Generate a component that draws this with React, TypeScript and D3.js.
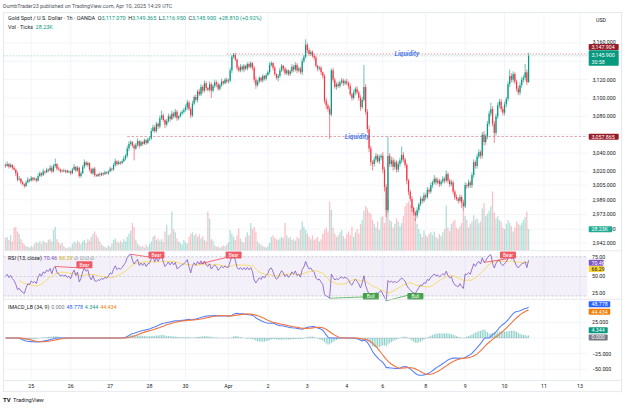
import React from "react";
import * as d3 from "d3";

const FONT = "Roboto, 'Liberation Sans', Arial, sans-serif";

// ---------- data (hourly bars, Mar 24 08:00 -> Apr 10 14:00 UTC) ----------
const firstOpen = 3027;
const closes = [
  3026, 3028, 3025, 3027, 3024, 3022, 3018, 3011, 3012, 3008,
  3006, 3004, 3008, 3011, 3010, 3013, 3011, 3012, 3010, 3015,
  3018, 3016, 3020, 3019, 3022, 3021, 3024, 3020, 3026, 3028,
  3023, 3022, 3020, 3021, 3020, 3021, 3019, 3020, 3018, 3022,
  3025, 3021, 3024, 3015, 3018, 3025, 3030, 3027, 3029, 3022,
  3018, 3023, 3016, 3015, 3017, 3016, 3018, 3017, 3019, 3018,
  3020, 3023, 3022, 3027, 3031, 3028, 3030, 3029, 3031, 3034,
  3037, 3045, 3050, 3052, 3048, 3045, 3049, 3053, 3048, 3052,
  3050, 3054, 3051, 3055, 3056, 3064, 3068, 3064, 3072, 3069,
  3078, 3081, 3076, 3071, 3075, 3080, 3077, 3083, 3080, 3085,
  3078, 3080, 3083, 3085, 3087, 3090, 3095, 3088, 3081, 3094,
  3101, 3098, 3107, 3104, 3112, 3108, 3116, 3111, 3109, 3115,
  3108, 3113, 3117, 3115, 3110, 3114, 3118, 3116, 3120, 3118,
  3119, 3130, 3145, 3147, 3142, 3133, 3130, 3134, 3131, 3135,
  3132, 3137, 3134, 3138, 3133, 3120, 3114, 3118, 3122, 3119,
  3124, 3121, 3125, 3128, 3136, 3138, 3133, 3126, 3122, 3124,
  3130, 3135, 3132, 3127, 3130, 3126, 3129, 3134, 3131, 3136,
  3130, 3132, 3128, 3140, 3145, 3158, 3152, 3148, 3150, 3146,
  3144, 3135, 3132, 3133, 3128, 3124, 3097, 3092, 3088, 3082,
  3130, 3120, 3112, 3115, 3113, 3117, 3119, 3116, 3118, 3116,
  3113, 3104, 3100, 3106, 3110, 3106, 3100, 3090, 3098, 3112,
  3085, 3066, 3045, 3030, 3028, 3033, 3037, 3031, 3035, 3037,
  3022, 3003, 2978, 3037, 3028, 3032, 3025, 3030, 3022, 3028,
  3032, 3038, 3033, 3027, 3010, 2998, 2990, 2980, 2975, 2972,
  2978, 2984, 2990, 2988, 2994, 2992, 3000, 2998, 3005, 3008,
  3012, 3008, 3010, 3006, 3009, 3012, 3010, 3017, 3010, 3006,
  3008, 2998, 2992, 2990, 2988, 2992, 2986, 2982, 3005, 3004,
  3008, 3005, 3016, 3030, 3026, 3036, 3041, 3037, 3060, 3052,
  3058, 3072, 3083, 3088, 3072, 3062, 3080, 3092, 3096, 3088,
  3084, 3093, 3099, 3115, 3124, 3120, 3126, 3118, 3110, 3106,
  3114, 3120, 3122, 3128, 3117.07, 3145.9,
];
const wickUp = [
  2,3,1,2,1,2,1,2,3,1, 2,1,2,3,1,2,1,2,1,3, 2,1,3,1,2,1,3,2,2,6, 1,2,1,1,2,1,1,1,1,2,
  3,1,2,1,2,2,3,1,2,1, 2,1,2,1,1,2,1,1,2,1, 1,2,1,2,3,1,2,1,2,3, 2,3,3,2,1,2,2,3,1,2,
  1,2,1,2,2,3,3,2,2,1, 3,5,2,1,2,3,2,3,2,3, 2,1,2,2,2,3,3,2,2,3, 2,3,2,3,3,2,3,2,1,3,
  2,2,3,2,2,2,3,1,2,2, 2,3,2,2,2,1,2,3,2,2, 1,2,2,2,1,2,3,2,2,1, 2,1,2,2,3,2,1,2,1,2,
  3,2,1,2,2,1,2,3,2,3, 2,2,2,3,2,6,2,3,2,2, 2,2,1,2,2,1,2,3,2,3, 2,3,2,2,3,2,3,2,2,3,
  2,3,2,3,2,3,2,3,3,24, 3,3,4,3,2,3,3,2,3,2, 4,3,3,21,3,4,3,3,2,3, 3,9,3,2,2,2,2,3,2,2,
  3,2,3,2,3,2,3,2,3,2, 4,2,3,2,2,3,2,4,2,2, 3,2,2,3,2,3,2,3,3,2, 3,2,3,3,2,3,3,2,3,4,
  3,3,3,7,3,3,3,3,3,3, 3,3,2,3,7,3,3,2,2,3, 3,3,3,9,3,3.465,
];
const wickDn = [
  2,1,2,1,2,1,3,2,1,2, 1,2,1,1,2,1,2,1,2,1, 1,2,1,2,1,2,1,2,1,2, 2,1,2,1,1,2,1,1,2,1,
  1,2,1,2,2,1,2,1,2,2, 1,2,2,1,1,2,1,2,1,1, 2,1,2,1,2,2,1,2,1,1, 2,2,3,2,2,13,2,2,3,1,
  2,1,2,1,2,2,1,2,2,3, 2,2,2,4,2,2,3,1,2,2, 3,2,1,2,2,2,3,2,3,2, 2,2,3,2,2,3,2,3,2,2,
  8,2,2,3,2,2,2,2,1,2, 2,2,3,2,2,3,2,2,2,3, 2,2,2,2,3,3,4,2,2,2, 2,2,2,1,2,2,3,2,2,4,
  2,2,3,2,2,2,2,2,3,2, 3,2,2,3,2,2,3,2,2,2, 3,2,3,2,3,3,3,4,3,27, 2,3,2,3,2,2,2,3,2,2,
  3,2,3,2,3,2,3,4,2,2, 3,4,4,4,7,3,3,2,3,3, 4,5,8,3,3,3,4,3,3,3, 3,3,3,3,4,4,3,4,3,6,
  3,3,2,3,2,3,2,3,2,3, 2,3,2,3,2,2,3,2,3,3, 2,3,3,2,3,2,6,5,2,3, 2,3,3,3,3,3,2,3,3,4,
  3,3,3,3,3,11,3,3,3,3, 3,3,3,3,3,3,3,3,3,3, 3,3,3,3,3,0.12,
];
const volumesK = [
  17,18,14,20,12,30,31,25,22,15, 10,8,6,5,4,6,5,9,11,10, 12,9,13,11,10,14,15,12,27,31,
  15,11,8,10,6,4,3,5,4,9, 12,10,13,11,9,12,14,10,15,13, 18,22,25,20,17,12,8,6,5,4,
  7,5,9,14,16,12,10,13,11,15, 12,18,22,26,36,31,14,9,7,5, 6,4,8,5,9,12,18,20,14,16,
  13,15,12,25,34,20,22,51,28,24, 16,12,10,8,14,11,9,18,22,24, 20,22,18,21,16,19,14,12,51,42,
  15,13,7,5,6,4,5,7,6,8, 11,27,22,18,14,20,29,16,12,10, 18,24,20,36,28,31,25,12,9,8,
  6,5,4,6,10,18,20,17,15,14, 16,18,17,36,20,16,18,14,15,13, 18,16,27,38,31,27,22,18,15,20,
  14,16,18,12,15,22,27,30,25,64, 53,30,22,18,20,24,27,19,16,22, 25,20,31,18,24,28,22,35,40,52,
  58,55,50,48,40,35,30,38,27,44, 45,36,55,66,40,38,30,35,42,38, 32,36,45,58,62,64,60,57,50,42,
  35,28,22,18,26,20,18,22,24,20, 25,18,16,22,19,24,28,59,30,26, 35,38,40,30,28,32,36,52,45,40,
  30,35,38,46,40,42,36,38,55,62, 45,48,52,58,77,50,42,45,40,38, 30,28,35,40,36,32,25,30,38,35,
  33,36,40,44,51,28.23,
];

const dayLabels = ["25", "26", "27", "28", "30", "Apr", "2", "3", "4", "6", "8", "9", "10", "11", "13"];
const dayBars = [15, 38, 61, 84, 105, 130, 153, 176, 199, 220, 245, 268, 291, 314, 335];

const priceGrid = [3160, 3140, 3120, 3100, 3080, 3060, 3040, 3020, 3005, 2989, 2973, 2957, 2942];
const priceTickLabels = [3160, 3120, 3100, 3080, 3040, 3020, 3005, 2989, 2973, 2957, 2942];
const rsiTicks = [75, 50, 25];
const macdTicks = [25, -25, -50];

const liquidityLevels = [3147.904, 3057.865];
const liquidityStartBar = [129, 71];
const liquidityLabelBar = [234, 205];

const bearPairs = [[29, 46], [73, 88], [113, 133], [279, 293]];
const bullPairs = [[189, 213], [222, 239]];

// ---------- indicators ----------
function rsiCalc(src: number[], len: number) {
  let ag = 1.5, al = 1.5;
  const out = [50];
  for (let i = 1; i < src.length; i++) {
    const ch = src[i] - src[i - 1];
    ag = (ag * (len - 1) + Math.max(ch, 0)) / len;
    al = (al * (len - 1) + Math.max(-ch, 0)) / len;
    out.push(al === 0 ? 100 : 100 - 100 / (1 + ag / al));
  }
  return out;
}
function smaCalc(src: number[], len: number) {
  return src.map((_, i) => d3.mean(src.slice(Math.max(0, i - len + 1), i + 1)) as number);
}
function smmaCalc(src: number[], len: number) {
  let s = src[0];
  return src.map((v, i) => (i === 0 ? s : (s = (s * (len - 1) + v) / len)));
}
function emaCalc(src: number[], len: number) {
  const a = 2 / (len + 1);
  let e = src[0];
  return src.map((v, i) => (i === 0 ? e : (e = a * v + (1 - a) * e)));
}

export default function App() {
  const n = closes.length;
  const opens = closes.map((c, i) => (i === 0 ? firstOpen : closes[i - 1]));
  const highs = closes.map((c, i) => Math.max(opens[i], c) + wickUp[i]);
  const lows = closes.map((c, i) => Math.min(opens[i], c) - wickDn[i]);

  const x = d3.scaleLinear().domain([0, 335]).range([5.5, 5.5 + 335 * 1.715]);
  const yP = d3.scaleLinear().domain([2942, 3160]).range([243.0, 42.9]);
  const yV = d3.scaleLinear().domain([0, 28.23]).range([250.7, 229]);
  const yR = d3.scaleLinear().domain([25, 75]).range([296, 256.7]);
  const yM = d3.scaleLinear().domain([-25, 25]).range([353.7, 322.3]);

  const rsi = rsiCalc(closes, 13);
  const rsiMa = smaCalc(rsi, 14);

  const hlc3 = closes.map((c, i) => (highs[i] + lows[i] + c) / 3);
  const hi = smmaCalc(highs, 34);
  const lo = smmaCalc(lows, 34);
  const e1 = emaCalc(hlc3, 34);
  const e2 = emaCalc(e1, 34);
  const mi = e1.map((v, i) => v + (v - e2[i]));
  const md = mi.map((m, i) => (m > hi[i] ? m - hi[i] : m < lo[i] ? m - lo[i] : 0));
  const sb = smaCalc(md, 9);
  const sh = md.map((v, i) => v - sb[i]);

  const idx = d3.range(n);
  const lineR = d3.line<number>().x((i) => x(i)).y((i) => yR(rsi[i]));
  const lineRM = d3.line<number>().x((i) => x(i)).y((i) => yR(rsiMa[i]));
  const lineMD = d3.line<number>().x((i) => x(i)).y((i) => yM(md[i]));
  const lineSB = d3.line<number>().x((i) => x(i)).y((i) => yM(sb[i]));

  const UP = "#089981", DN = "#f23645";
  const grid = "#f0f3fa";
  const txt = "#131722";
  const fs = 5.3;
  const left = 3.5, right = 621.5, axisX = 587.5;
  const mainTop = 12.5, mainBot = 250.7, rsiBot = 299.3, macdBot = 380.5, frameBot = 391.7;
  const lastX = x(n - 1);

  const box = (cy: number, label: string, bg: string, w: number, color = "#fff") => (
    <g key={label + cy}>
      <rect x={588.7} y={cy - 3} width={w} height={6} fill={bg} rx={0.8} />
      <text x={591.5} y={cy + 1.9} fontSize={fs} fill={color} fontFamily={FONT}>{label}</text>
    </g>
  );

  return (
    <svg width={625} height={408} style={{ position: "absolute", left: 0, top: 0, background: "#fff" }}>
      <defs>
        <clipPath id="volBoxClip">
          <rect x={612.3} y={220} width={12} height={20} />
        </clipPath>
      </defs>
      <rect width={625} height={408} fill="#fff" />
      <text x={3} y={8} fontSize={5.4} fill="#50535e" fontFamily={FONT}>
        DumbTrader23 published on TradingView.com, Apr 10, 2025 14:29 UTC
      </text>

      {/* grid */}
      {dayBars.map((b, k) => (
        <line key={"vg" + k} x1={x(b)} x2={x(b)} y1={mainTop} y2={macdBot} stroke={grid} strokeWidth={0.8} />
      ))}
      {priceGrid.map((p) => (
        <line key={"hg" + p} x1={left} x2={axisX} y1={yP(p)} y2={yP(p)} stroke={grid} strokeWidth={0.8} />
      ))}
      {[25, 0, -25, -50].map((v) => (
        <line key={"mg" + v} x1={left} x2={axisX} y1={yM(v)} y2={yM(v)} stroke={grid} strokeWidth={0.8} />
      ))}

      {/* volume */}
      {idx.map((i) => (
        <rect key={"v" + i} x={x(i) - 0.65} y={yV(volumesK[i])} width={1.3} height={mainBot - yV(volumesK[i])}
          fill={closes[i] >= opens[i] ? UP : DN} opacity={0.3} />
      ))}

      {/* current price line & liquidity */}
      <line x1={left} x2={axisX} y1={yP(3145.9)} y2={yP(3145.9)} stroke={UP} strokeWidth={0.6} strokeDasharray="1.5 1.5" opacity={0.5} />
      {liquidityLevels.map((lv, k) => (
        <line key={"lq" + k} x1={x(liquidityStartBar[k])} x2={axisX} y1={yP(lv)} y2={yP(lv)}
          stroke="#b5404c" strokeWidth={0.7} strokeDasharray={k === 0 ? "1.4 1.6" : "2.5 1.8"} opacity={0.75} />
      ))}

      {/* candles */}
      {idx.map((i) => {
        const o = opens[i], c = closes[i];
        const col = c >= o ? UP : DN;
        const top = yP(Math.max(o, c)), bot = yP(Math.min(o, c));
        return (
          <g key={"c" + i}>
            <line x1={x(i)} x2={x(i)} y1={yP(highs[i])} y2={yP(lows[i])} stroke={col} strokeWidth={0.6} />
            <rect x={x(i) - 0.62} y={top} width={1.24} height={Math.max(0.6, bot - top)} fill={col} />
          </g>
        );
      })}

      {liquidityLevels.map((lv, k) => (
        <text key={"lt" + k} x={x(liquidityLabelBar[k])} y={yP(lv) + 2.2} fontSize={6.6} fontStyle="italic" fontWeight="bold"
          fill="#4f7cec" textAnchor="middle" fontFamily={FONT}>Liquidity</text>
      ))}

      {/* legend */}
      <text x={8} y={20.2} fontSize={5.5} fontFamily={FONT} fill={txt}>
        <tspan>Gold Spot / U.S. Dollar · 1h · OANDA</tspan>
        <tspan dx={2.5}>O</tspan><tspan fill={UP}>3,117.070</tspan>
        <tspan dx={2.5}>H</tspan><tspan fill={UP}>3,149.365</tspan>
        <tspan dx={2.5}>L</tspan><tspan fill={UP}>3,116.950</tspan>
        <tspan dx={2.5}>C</tspan><tspan fill={UP}>3,145.900</tspan>
        <tspan dx={2.5} fill={UP}>+28.810 (+0.92%)</tspan>
      </text>
      <text x={8} y={28.6} fontSize={5.5} fontFamily={FONT} fill={txt}>
        <tspan>Vol · Ticks</tspan><tspan dx={2.5} fill={UP}>28.23K</tspan>
      </text>

      {/* RSI pane */}
      <rect x={left} y={yR(75)} width={axisX - left} height={yR(25) - yR(75)} fill="#7e57c2" opacity={0.09} />
      {rsiTicks.map((v) => (
        <line key={"rb" + v} x1={left} x2={axisX} y1={yR(v)} y2={yR(v)} stroke="#9598a1" strokeWidth={0.6} strokeDasharray="2 2" opacity={0.8} />
      ))}
      <path d={lineRM(idx.slice(8)) || ""} fill="none" stroke="#f7d64a" strokeWidth={0.8} />
      <path d={lineR(idx) || ""} fill="none" stroke="#7e57c2" strokeWidth={0.8} />
      {bearPairs.map(([a, b], k) => {
        let by = Math.max(251.5, yR(rsi[b]) - 9);
        if (x(b) < 115) by = Math.max(by, 261.2);
        return (
          <g key={"br" + k}>
            <line x1={x(a)} y1={yR(rsi[a])} x2={x(b)} y2={yR(rsi[b])} stroke={DN} strokeWidth={1} opacity={0.7} />
            <rect x={x(b) - 8} y={by} width={16} height={7} rx={1} fill="#f05a64" />
            <text x={x(b)} y={by + 5.4} fontSize={4.8} fill="#fff" textAnchor="middle" fontFamily={FONT}>Bear</text>
          </g>
        );
      })}
      {bullPairs.map(([a, b], k) => {
        const by = Math.min(293, yR(rsi[b]) + 1.5);
        return (
          <g key={"bl" + k}>
            <line x1={x(a)} y1={yR(rsi[a])} x2={x(b)} y2={yR(rsi[b])} stroke="#4caf50" strokeWidth={1} opacity={0.8} />
            <rect x={x(b) - 8} y={by} width={16} height={7} rx={1} fill="#43a047" />
            <text x={x(b)} y={by + 5.4} fontSize={4.8} fill="#fff" textAnchor="middle" fontFamily={FONT}>Bull</text>
          </g>
        );
      })}
      <text x={8} y={260.4} fontSize={5.3} fontFamily={FONT} fill={txt}>
        <tspan>RSI (13, close)</tspan>
        <tspan dx={2} fill="#7e57c2">70.46</tspan>
        <tspan dx={2} fill="#d4b106">66.29</tspan>
        <tspan dx={2} fill="#787b86">∅  ∅  ∅  ∅</tspan>
      </text>

      {/* MACD pane */}
      {idx.map((i) => (
        <rect key={"h" + i} x={x(i) - 0.5} y={Math.min(yM(0), yM(sh[i]))} width={1} height={Math.abs(yM(sh[i]) - yM(0))}
          fill="#26a69a" opacity={0.55} />
      ))}
      <line x1={x(0)} x2={lastX} y1={yM(0)} y2={yM(0)} stroke="#787b86" strokeWidth={0.5} opacity={0.4} />
      <path d={lineMD(idx) || ""} fill="none" stroke="#5b82f7" strokeWidth={1.1} />
      <path d={lineSB(idx) || ""} fill="none" stroke="#f2743f" strokeWidth={1.1} />
      <text x={8} y={309} fontSize={5.3} fontFamily={FONT} fill={txt}>
        <tspan>IMACD_LB (34, 9)</tspan>
        <tspan dx={2} fill="#787b86">0.000</tspan>
        <tspan dx={2} fill="#2962ff">48.778</tspan>
        <tspan dx={2} fill={UP}>4.344</tspan>
        <tspan dx={2} fill="#f57c00">44.434</tspan>
      </text>

      {/* separators & frame */}
      <line x1={left} x2={right} y1={mainBot} y2={mainBot} stroke="#e0e3eb" strokeWidth={0.8} />
      <line x1={left} x2={right} y1={rsiBot} y2={rsiBot} stroke="#e0e3eb" strokeWidth={0.8} />
      <line x1={left} x2={right} y1={macdBot} y2={macdBot} stroke="#e0e3eb" strokeWidth={0.8} />
      <rect x={left} y={mainTop} width={right - left} height={frameBot - mainTop} fill="none" stroke="#e0e3eb" strokeWidth={0.8} />

      {/* price axis */}
      <text x={596} y={21.5} fontSize={5.3} fill={txt} fontFamily={FONT}>USD</text>
      {priceTickLabels.map((p) => (
        p === 2957 ? (
          <text key={"pt" + p} x={592.5} y={yP(p) + 1.9} fontSize={fs} fill={txt} fontFamily={FONT} clipPath="url(#volBoxClip)">
            {d3.format(",.3f")(p)}
          </text>
        ) : (
          <text key={"pt" + p} x={592.5} y={yP(p) + (p === 3160 ? 1.1 : 1.9)} fontSize={fs} fill={txt} fontFamily={FONT}>
            {d3.format(",.3f")(p)}
          </text>
        )
      ))}
      <g>
        <rect x={588.7} y={44} width={30} height={6} fill="#961c28" rx={0.8} />
        <text x={591.5} y={48.9} fontSize={fs} fill="#fff" fontFamily={FONT}>3,147.904</text>
        <rect x={588.7} y={50.3} width={30} height={15.4} fill={UP} rx={0.8} />
        <text x={591.5} y={56.9} fontSize={fs} fill="#fff" fontFamily={FONT}>3,145.900</text>
        <text x={591.5} y={64} fontSize={fs} fill="#fff" fontFamily={FONT}>30:58</text>
        <rect x={588.7} y={yP(3057.865) - 3} width={30} height={6} fill="#961c28" rx={0.8} />
        <text x={591.5} y={yP(3057.865) + 1.9} fontSize={fs} fill="#fff" fontFamily={FONT}>3,057.865</text>
      </g>
      {box(229.3, "28.23K", "#22ab94", 23.5)}

      {rsiTicks.map((v) => (
        <text key={"rt" + v} x={592} y={(v === 25 ? 293 : yR(v)) + 1.9} fontSize={fs} fill={txt} fontFamily={FONT}>
          {d3.format(".2f")(v)}
        </text>
      ))}
      {box(262.8, "70.46", "#7e57c2", 15)}
      {box(269, "66.29", "#fdd835", 15, txt)}

      {macdTicks.map((v) => (
        <text key={"mt" + v} x={592} y={yM(v) + 1.9} fontSize={fs} fill={txt} fontFamily={FONT}>
          {d3.format(".3f")(v)}
        </text>
      ))}
      {box(304.2, "48.778", "#2962ff", 21.5)}
      {box(311.8, "44.434", "#f57c00", 21.5)}
      {box(330.2, "4.344", "#089981", 19)}
      {box(337.5, "0.000", "#787b86", 19)}

      {/* time axis */}
      {dayLabels.map((l, k) => (
        <text key={"xl" + k} x={x(dayBars[k])} y={388} fontSize={fs} fill={txt} textAnchor="middle" fontFamily={FONT}>{l}</text>
      ))}

      {/* logo */}
      <text x={3} y={401.5} fontSize={6} fontWeight="bold" fill={txt} fontFamily={FONT}>TV</text>
      <text x={13} y={401.5} fontSize={5.6} fill={txt} fontFamily={FONT}>TradingView</text>
    </svg>
  );
}
